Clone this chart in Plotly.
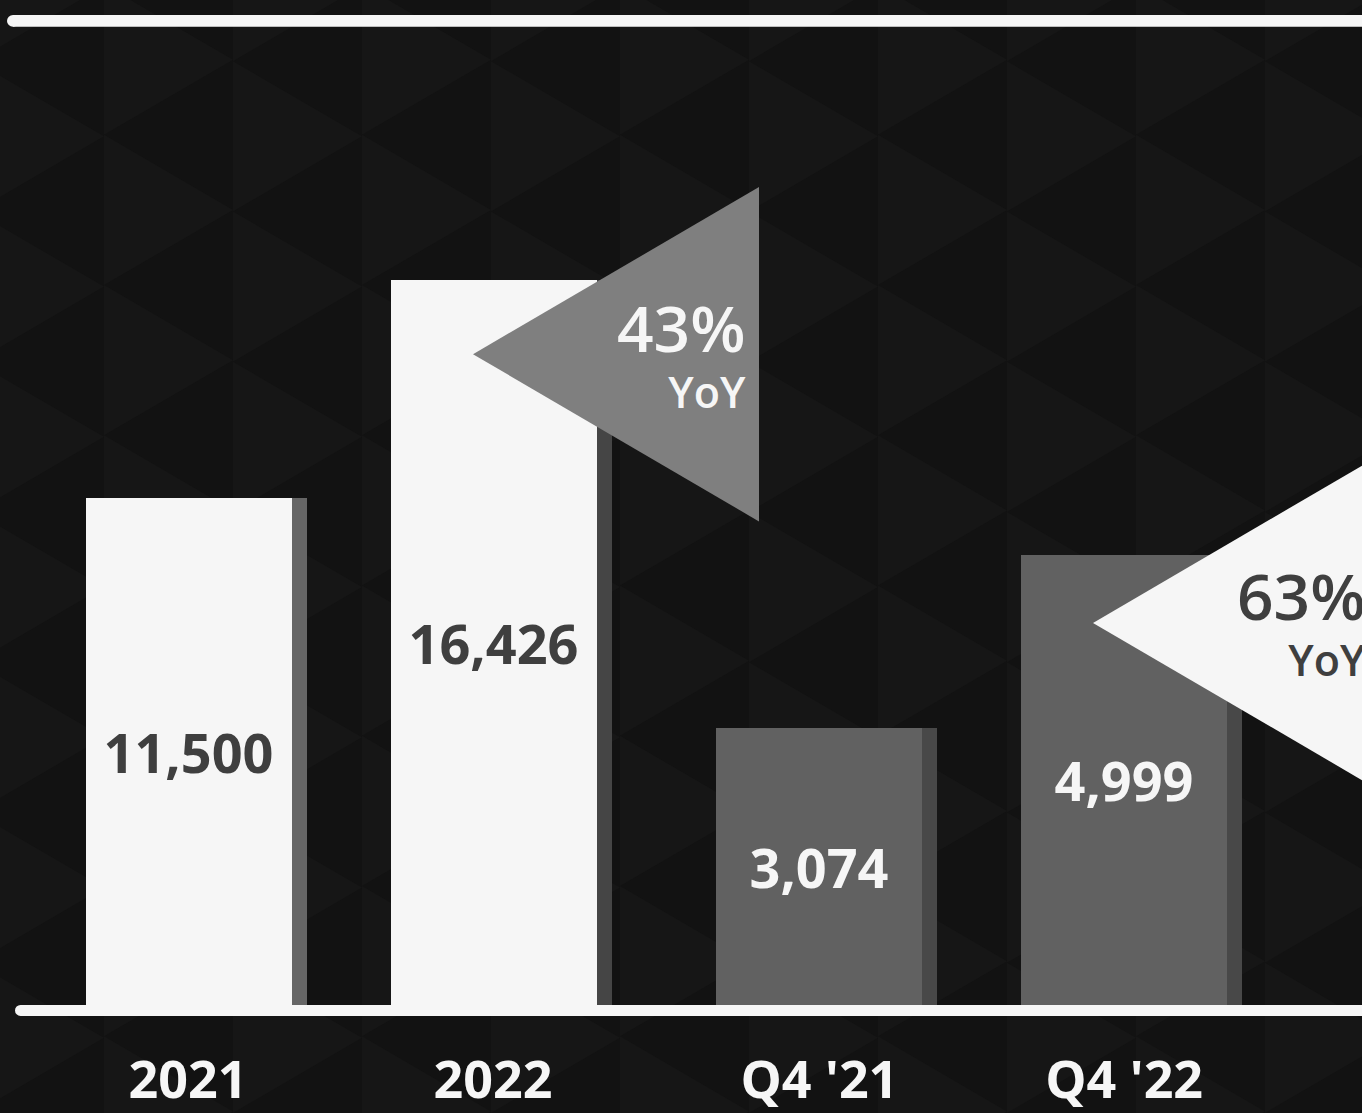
import plotly.graph_objects as go

# ---- data -------------------------------------------------------------
annual_labels = ["2021", "2022"]
annual_values = [11500, 16426]
quarter_labels = ["Q4 '21", "Q4 '22"]
quarter_values = [3074, 4999]
growth_labels = ["43%", "63%"]
growth_suffix = "YoY"

# ---- canvas geometry ---------------------------------------------------
W, H = 1362, 1113
BASE = 1010          # pixel row of the baseline (bottom of plot area)
FONT = "Open Sans"

BG = "#121212"
BG_TRI = "#161616"
WHITE = "#f6f6f6"
DARK_TEXT = "#3f3f3f"


def px_x(x):
    return x / W


def px_y(y):
    return (BASE - y) / BASE


# bar geometry in category units (one slot = 305 px)
SLOT = 305.0
BAR_W = 206 / SLOT
SHADOW_W = 221 / SLOT
OFF = -BAR_W / 2

fig = go.Figure()

# annual bars: shadow strip then face
fig.add_trace(go.Bar(
    x=annual_labels, y=annual_values, xaxis="x", yaxis="y",
    width=[SHADOW_W] * 2, offset=[OFF] * 2,
    marker=dict(color=["#666666", "#454545"], line=dict(width=0)),
    hoverinfo="skip", showlegend=False,
))
fig.add_trace(go.Bar(
    x=annual_labels, y=annual_values, xaxis="x", yaxis="y",
    width=[BAR_W] * 2, offset=[OFF] * 2,
    marker=dict(color=WHITE, line=dict(width=0)),
    text=[f"{v:,}" for v in annual_values],
    textposition="inside", insidetextanchor="middle", textangle=0,
    constraintext="none",
    textfont=dict(family=FONT, size=54, color=DARK_TEXT, weight=700),
    showlegend=False,
))

# quarterly bars on their own scale
fig.add_trace(go.Bar(
    x=quarter_labels, y=quarter_values, xaxis="x2", yaxis="y2",
    width=[SHADOW_W] * 2, offset=[OFF] * 2,
    marker=dict(color="#484848", line=dict(width=0)),
    hoverinfo="skip", showlegend=False,
))
fig.add_trace(go.Bar(
    x=quarter_labels, y=quarter_values, xaxis="x2", yaxis="y2",
    width=[BAR_W] * 2, offset=[OFF] * 2,
    marker=dict(color="#616161", line=dict(width=0)),
    text=[f"{v:,}" for v in quarter_values],
    textposition="inside", insidetextanchor="middle", textangle=0,
    constraintext="none",
    textfont=dict(family=FONT, size=54, color=WHITE, weight=700),
    showlegend=False,
))

shapes = []

# faint triangle tessellation in the background
COL_W, ROW_H = 129, 151
for ci in range(12):
    xl = -25 + ci * COL_W
    phase = 137 if ci % 2 == 0 else 60
    for ri in range(-1, 9):
        c = phase + ri * ROW_H
        path = (f"M {px_x(xl)},{px_y(c - ROW_H / 2)} "
                f"L {px_x(xl + COL_W)},{px_y(c)} "
                f"L {px_x(xl)},{px_y(c + ROW_H / 2)} Z")
        shapes.append(dict(type="path", xref="paper", yref="paper", path=path,
                           fillcolor=BG_TRI, line=dict(width=0), layer="below"))

# top rule and baseline, with rounded left ends
for (x0, y0, y1) in [(7, 15, 27), (15, 1010, 1021)]:
    r = (y1 - y0) / 2
    shapes.append(dict(type="rect", xref="paper", yref="paper",
                       x0=px_x(x0 + r), x1=px_x(W + 5), y0=px_y(y1), y1=px_y(y0),
                       fillcolor=WHITE, line=dict(width=0), layer="above"))
    shapes.append(dict(type="circle", xref="paper", yref="paper",
                       x0=px_x(x0), x1=px_x(x0 + 2 * r), y0=px_y(y1), y1=px_y(y0),
                       fillcolor=WHITE, line=dict(width=0), layer="above"))

# growth call-out arrows (pointing left at the newer bar)
callouts = [
    dict(tip=(473, 356), fill="#7f7f7f", text_color=WHITE),
    dict(tip=(1093, 626), fill=WHITE, text_color=DARK_TEXT),
]
ARROW_LEN, ARROW_HALF = 286, 168
annotations = []
for co, label in zip(callouts, growth_labels):
    tx, ty = co["tip"]
    path = (f"M {px_x(tx)},{px_y(ty)} "
            f"L {px_x(tx + ARROW_LEN)},{px_y(ty - ARROW_HALF)} "
            f"L {px_x(tx + ARROW_LEN)},{px_y(ty + ARROW_HALF)} Z")
    shapes.append(dict(type="path", xref="paper", yref="paper", path=path,
                       fillcolor=co["fill"], line=dict(width=0), layer="above"))
    right = tx + ARROW_LEN - 11
    annotations.append(dict(
        xref="paper", yref="paper", x=px_x(right), y=px_y(ty - 2),
        xanchor="right", yanchor="middle", align="right", showarrow=False,
        text=f"<span style='font-size:64px'>{label}</span><br>{growth_suffix}",
        font=dict(family=FONT, size=43, color=co["text_color"], weight=600),
    ))

tick_font = dict(family=FONT, size=52, color=WHITE, weight=700)
xaxis_common = dict(type="category", range=[-0.5, 1.5], showgrid=False,
                    zeroline=False, showline=False, ticks="",
                    tickfont=tick_font, ticklabelstandoff=40, fixedrange=True)

fig.update_layout(
    width=W, height=H,
    margin=dict(l=0, r=0, t=0, b=H - BASE, pad=0),
    paper_bgcolor=BG, plot_bgcolor="rgba(0,0,0,0)",
    barmode="overlay", bargap=0,
    showlegend=False,
    xaxis=dict(domain=[px_x(188 - SLOT / 2), px_x(493 + SLOT / 2)], anchor="y",
               **xaxis_common),
    xaxis2=dict(domain=[px_x(819.5 - SLOT / 2), px_x(1124 + SLOT / 2)], anchor="y2",
                **xaxis_common),
    yaxis=dict(range=[0, 22778], visible=False, domain=[0, 1], fixedrange=True),
    yaxis2=dict(range=[0, 11165], visible=False, domain=[0, 1], anchor="x2",
                fixedrange=True),
    shapes=shapes,
    annotations=annotations,
)

fig.write_html("out.html", config={"displayModeBar": False})
